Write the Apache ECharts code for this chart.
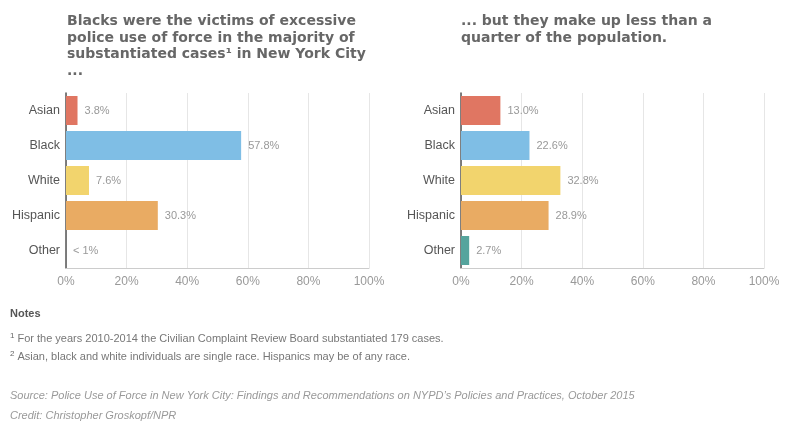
<!DOCTYPE html>
<html><head><meta charset="utf-8">
<script src="https://cdn.jsdelivr.net/npm/echarts@6/dist/echarts.min.js"></script>
<style>html,body{margin:0;padding:0;background:#fff}#c{width:791px;height:425px}</style>
</head><body><div id="c"></div>
<script>
const categories = ['Asian', 'Black', 'White', 'Hispanic', 'Other'];
const forceValues = [3.8, 57.8, 7.6, 30.3, 0];
const forceLabels = ['3.8%', '57.8%', '7.6%', '30.3%', '< 1%'];
const popValues = [13.0, 22.6, 32.8, 28.9, 2.7];
const popLabels = ['13.0%', '22.6%', '32.8%', '28.9%', '2.7%'];
const colors = ['#e07662', '#7fbee5', '#f2d46d', '#e9ab63', '#55a49d'];
const tickLabels = ['0%', '20%', '40%', '60%', '80%', '100%'];

const chart = echarts.init(document.getElementById('c'));
const font = 'Liberation Sans, Arial, sans-serif';
function yAx(gi){return {type:'category',gridIndex:gi,data:categories,inverse:true,
  axisLine:{show:true,lineStyle:{color:'#555',width:1.5}},axisTick:{show:false},
  axisLabel:{color:'#555',fontSize:12.5,fontFamily:font,margin:6}};}
function xAx(gi){return {type:'value',gridIndex:gi,min:0,max:100,interval:20,
  axisLine:{show:true,lineStyle:{color:'#ccc'}},axisTick:{show:false},
  splitLine:{show:true,lineStyle:{color:'#e6e6e6'}},
  axisLabel:{color:'#999',fontSize:12,fontFamily:font,margin:8,
   formatter:(v)=>tickLabels[v/20]}};}
function ser(gi, vals, labs){return {type:'bar',xAxisIndex:gi,yAxisIndex:gi,barCategoryGap:'17%',
  data:vals.map((v,i)=>({value:v,itemStyle:{color:colors[i]}})),
  label:{show:true,position:'right',distance:7,color:'#999',fontSize:11,fontFamily:font,
   formatter:(p)=>labs[p.dataIndex]}};}
const titleStyle = {color:'#676767',fontSize:14,fontWeight:'bold',fontFamily:'DejaVu Sans, sans-serif',lineHeight:16.7};
const noteRich = {
  s:{fontSize:8,color:'#666',fontWeight:'normal',fontFamily:font,lineHeight:18,padding:[0,3,7,0]},
  t:{fontSize:11,color:'#777',fontWeight:'normal',fontFamily:font,lineHeight:18}
};
chart.setOption({
  animation:false,
  grid:[{left:66,top:93,width:303,height:175},{left:461,top:93,width:303,height:175}],
  xAxis:[xAx(0),xAx(1)],
  yAxis:[yAx(0),yAx(1)],
  series:[ser(0,forceValues,forceLabels),ser(1,popValues,popLabels)],
  title:[
    {text:'Blacks were the victims of excessive\npolice use of force in the majority of\nsubstantiated cases¹ in New York City\n...',left:62,top:8,textStyle:titleStyle},
    {text:'... but they make up less than a\nquarter of the population.',left:456,top:8,textStyle:titleStyle},
    {text:'Notes',left:5,top:303,textStyle:{color:'#555',fontSize:11,fontWeight:'bold',fontFamily:font}},
    {text:'{s|1}{t|For the years 2010-2014 the Civilian Complaint Review Board substantiated 179 cases.}\n{s|2}{t|Asian, black and white individuals are single race. Hispanics may be of any race.}',
     left:5,top:325,textStyle:{fontWeight:'normal',lineHeight:18,rich:noteRich}},
    {text:'Source: Police Use of Force in New York City: Findings and Recommendations on NYPD\u2019s Policies and Practices, October 2015',left:5,top:385,
     textStyle:{color:'#999',fontSize:11,fontStyle:'italic',fontWeight:'normal',fontFamily:font}},
    {text:'Credit: Christopher Groskopf/NPR',left:5,top:405,
     textStyle:{color:'#999',fontSize:11,fontStyle:'italic',fontWeight:'normal',fontFamily:font}}
  ]
});
</script></body></html>
